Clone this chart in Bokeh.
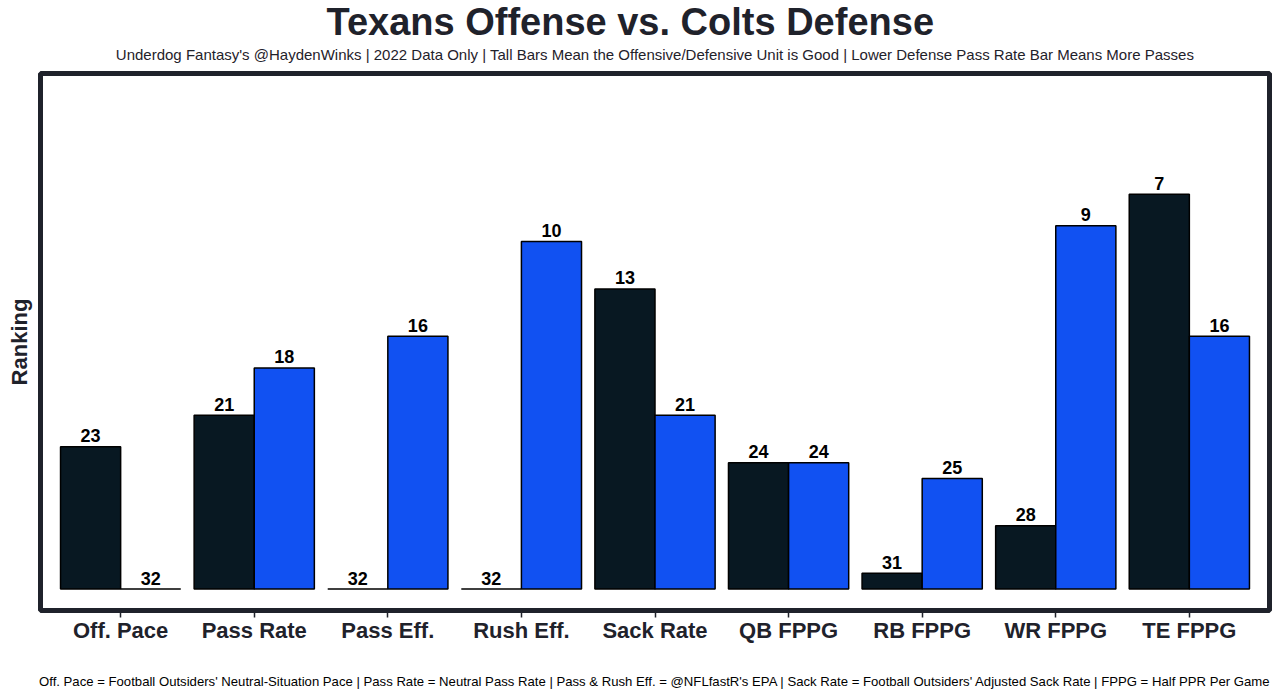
from bokeh.plotting import figure
from bokeh.models import Range1d, FixedTicker, Title, ColumnDataSource
from bokeh.embed import file_html
from bokeh.resources import INLINE
from bokeh.core.properties import value

# ---- data ----
categories = ["Off. Pace", "Pass Rate", "Pass Eff.", "Rush Eff.", "Sack Rate",
              "QB FPPG", "RB FPPG", "WR FPPG", "TE FPPG"]
offense_rank = [23, 21, 32, 32, 13, 24, 31, 28, 7]
defense_rank = [32, 18, 16, 10, 21, 24, 25, 9, 16]
n_teams = 32

title_text = "Texans Offense vs. Colts Defense"
subtitle_text = ("Underdog Fantasy's @HaydenWinks | 2022 Data Only | Tall Bars Mean the "
                 "Offensive/Defensive Unit is Good | Lower Defense Pass Rate Bar Means More Passes")
caption_text = ("Off. Pace = Football Outsiders' Neutral-Situation Pace | Pass Rate = Neutral Pass Rate | "
                "Pass & Rush Eff. = @NFLfastR's EPA | Sack Rate = Football Outsiders' Adjusted Sack Rate | "
                "FPPG = Half PPR Per Game")

OFF_COLOR = "#081822"
DEF_COLOR = "#1151F2"
INK = "#1f222b"
FONT = "Liberation Sans"

dodge = 0.225
bar_w = 0.45

pos = list(range(1, len(categories) + 1))
off_src = ColumnDataSource(dict(
    x=[p_ - dodge for p_ in pos],
    top=[n_teams - r for r in offense_rank],
    label=[str(r) for r in offense_rank],
))
def_src = ColumnDataSource(dict(
    x=[p_ + dodge for p_ in pos],
    top=[n_teams - r for r in defense_rank],
    label=[str(r) for r in defense_rank],
))

p = figure(width=1279, height=697, output_backend="svg", toolbar_location=None,
           x_range=Range1d(0.4, len(categories) + 0.6), y_range=Range1d(-1.36, 32.64),
           min_border_left=40, min_border_right=10, min_border_top=73, min_border_bottom=87)

p.background_fill_color = "white"
p.border_fill_color = "white"
p.outline_line_color = INK
p.outline_line_width = 5
p.xgrid.visible = False
p.ygrid.visible = False
p.yaxis.visible = False

for src, col in ((off_src, OFF_COLOR), (def_src, DEF_COLOR)):
    p.vbar(x="x", top="top", bottom=0, width=bar_w, source=src,
           fill_color=col, line_color="black", line_width=1.5)
    p.text(x="x", y="top", text="label", source=src, text_align="center",
           text_baseline="alphabetic", y_offset=-11, text_font=value(FONT),
           text_font_style="bold", text_font_size="18px", text_color="black")

ax = p.xaxis[0]
ax.ticker = FixedTicker(ticks=pos)
ax.major_label_overrides = {p_: c for p_, c in zip(pos, categories)}
ax.major_label_text_font = FONT
ax.major_label_text_font_style = "bold"
ax.major_label_text_font_size = "22px"
ax.major_label_text_color = INK
ax.axis_line_color = None
ax.major_tick_in = 0
ax.major_tick_out = 7
ax.major_tick_line_color = INK
ax.major_tick_line_width = 1.5
ax.minor_tick_line_color = None
ax.major_label_standoff = 0
# caption under the chart
ax.axis_label = caption_text
ax.axis_label_text_font = FONT
ax.axis_label_text_font_size = "13.15px"
ax.axis_label_text_font_style = "normal"
ax.axis_label_text_color = "black"
ax.axis_label_standoff = 28

# main title (outermost)
p.title.text = title_text
p.title.align = "left"
p.title.offset = 286
p.title.text_font = FONT
p.title.text_font_size = "38px"
p.title.text_font_style = "bold"
p.title.text_color = INK
p.title.standoff = -18

# subtitle, next to the frame
sub = Title(text=subtitle_text, align="center", text_font=FONT, text_font_size="15px",
            text_font_style="normal", text_color=INK, standoff=21)
p.add_layout(sub, "above")

ylab = Title(text="Ranking", align="center", vertical_align="top", text_font=FONT,
             text_font_size="22px", text_font_style="bold", text_color=INK, standoff=13)
p.add_layout(ylab, "left")

open("out.html", "w").write(file_html(p, INLINE))
